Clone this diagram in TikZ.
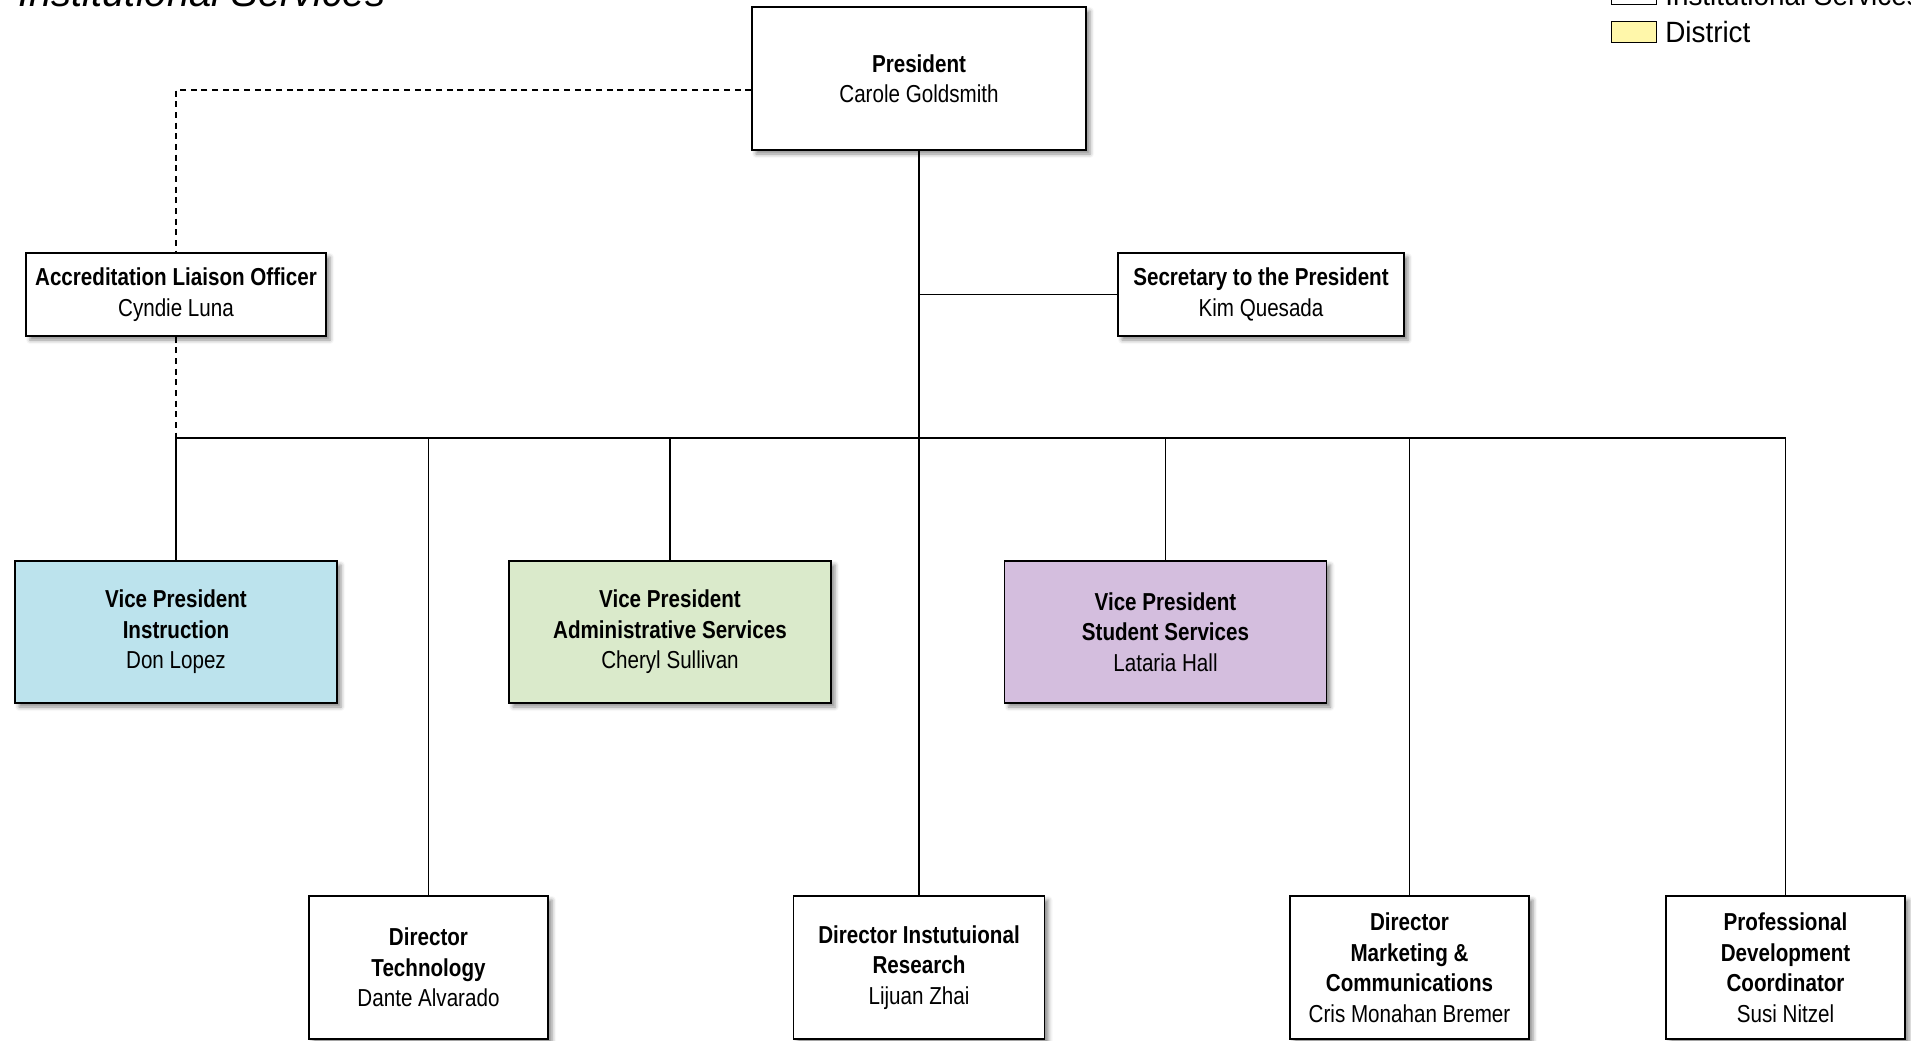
\documentclass[tikz,border=0pt]{standalone}
\usepackage{fontspec}
\setmainfont{Liberation Sans}[FakeStretch=0.84]
\newfontfamily\titlefont{Liberation Sans}
\newfontfamily\legfont{Liberation Sans}[FakeStretch=0.95]
\usetikzlibrary{shadows.blur}
\definecolor{vpblue}{RGB}{188,227,237}
\definecolor{vpgreen}{RGB}{218,234,203}
\definecolor{vppurple}{RGB}{212,190,222}
\definecolor{distyellow}{RGB}{255,247,170}
\begin{document}
\begin{tikzpicture}[x=0.75pt,y=-0.75pt,
  box/.style={draw=black, line width=1pt, fill=white, align=center, inner sep=0pt,
    blur shadow={shadow xshift=3pt, shadow yshift=-3pt, shadow blur radius=3pt, shadow opacity=45},
    font=\fontsize{18.4}{22.9}\selectfont},
  vpbox/.style={box, minimum width=241.5pt, minimum height=106.5pt},
  lowbox/.style={box, minimum width=179.25pt, minimum height=107.25pt},
  smallbox/.style={box, minimum height=62.25pt},
  conn/.style={line width=1.3pt},
  dconn/.style={line width=1.3pt, dash pattern=on 4.5pt off 3.5pt},
  legbox/.style={draw=black, line width=1pt, minimum width=33.75pt, minimum height=15.75pt, inner sep=0pt},
  legtext/.style={font=\legfont\fontsize{22}{26}\selectfont, anchor=base west, inner sep=0pt}
]
\useasboundingbox (0,0) rectangle (1911,1040);

% title
\node[anchor=base west, inner sep=0pt, font=\titlefont\itshape\fontsize{30}{36}\selectfont] (title) at (18,6) {Institutional Services};

% legend
\node[legbox, fill=white] (leg1) at (1634,-6) {};
\node[legtext] (leg1t) at (1665,5) {Institutional Services};
\node[legbox, fill=distyellow] (leg2) at (1634,32) {};
\node[legtext] (leg2t) at (1665,42) {District};

% nodes
\node[box, minimum width=250.5pt, minimum height=107.25pt] (pres) at (919,78.5) {\textbf{President}\\Carole Goldsmith};
\node[smallbox, minimum width=225pt] (alo) at (176,294.5) {\textbf{Accreditation Liaison Officer}\\Cyndie Luna};
\node[smallbox, minimum width=214.5pt] (sec) at (1261,294.5) {\textbf{Secretary to the President}\\Kim Quesada};

\node[vpbox, fill=vpblue] (vpi) at (176,632) {\textbf{Vice President}\\\textbf{Instruction}\\Don Lopez};
\node[vpbox, fill=vpgreen] (vpa) at (670,632) {\textbf{Vice President}\\\textbf{Administrative Services}\\Cheryl Sullivan};
\node[vpbox, fill=vppurple] (vps) at (1165.5,632) {\textbf{Vice President}\\\textbf{Student Services}\\Lataria Hall};

\node[lowbox] (dt) at (428.5,967.5) {\textbf{Director}\\\textbf{Technology}\\Dante Alvarado};
\node[lowbox, minimum width=188.25pt] (dir) at (919,967.5) {\textbf{Director Instutuional}\\\textbf{Research}\\Lijuan Zhai};
\node[lowbox] (dm) at (1409.5,967.5) {\textbf{Director}\\\textbf{Marketing \&}\\\textbf{Communications}\\Cris Monahan Bremer};
\node[lowbox] (pd) at (1785.5,967.5) {\textbf{Professional}\\\textbf{Development}\\\textbf{Coordinator}\\Susi Nitzel};

% coordinates
\coordinate (bus) at (0,438);
\coordinate (dtop) at (176,90);

% connectors
\draw[dconn] (pres.west |- dtop) -- (dtop) -- (alo.north);
\draw[dconn] (alo.south) -- (alo.south |- bus);
\draw[conn] (pres.south) -- (dir.north);
\draw[conn] (pres.south |- sec.west) -- (sec.west);
\draw[conn] (vpi.north |- bus) -- (pd.north |- bus);
\draw[conn] (vpi.north |- bus) -- (vpi.north);
\draw[conn] (dt.north |- bus) -- (dt.north);
\draw[conn] (vpa.north |- bus) -- (vpa.north);
\draw[conn] (vps.north |- bus) -- (vps.north);
\draw[conn] (dm.north |- bus) -- (dm.north);
\draw[conn] (pd.north |- bus) -- (pd.north);
\end{tikzpicture}
\end{document}
